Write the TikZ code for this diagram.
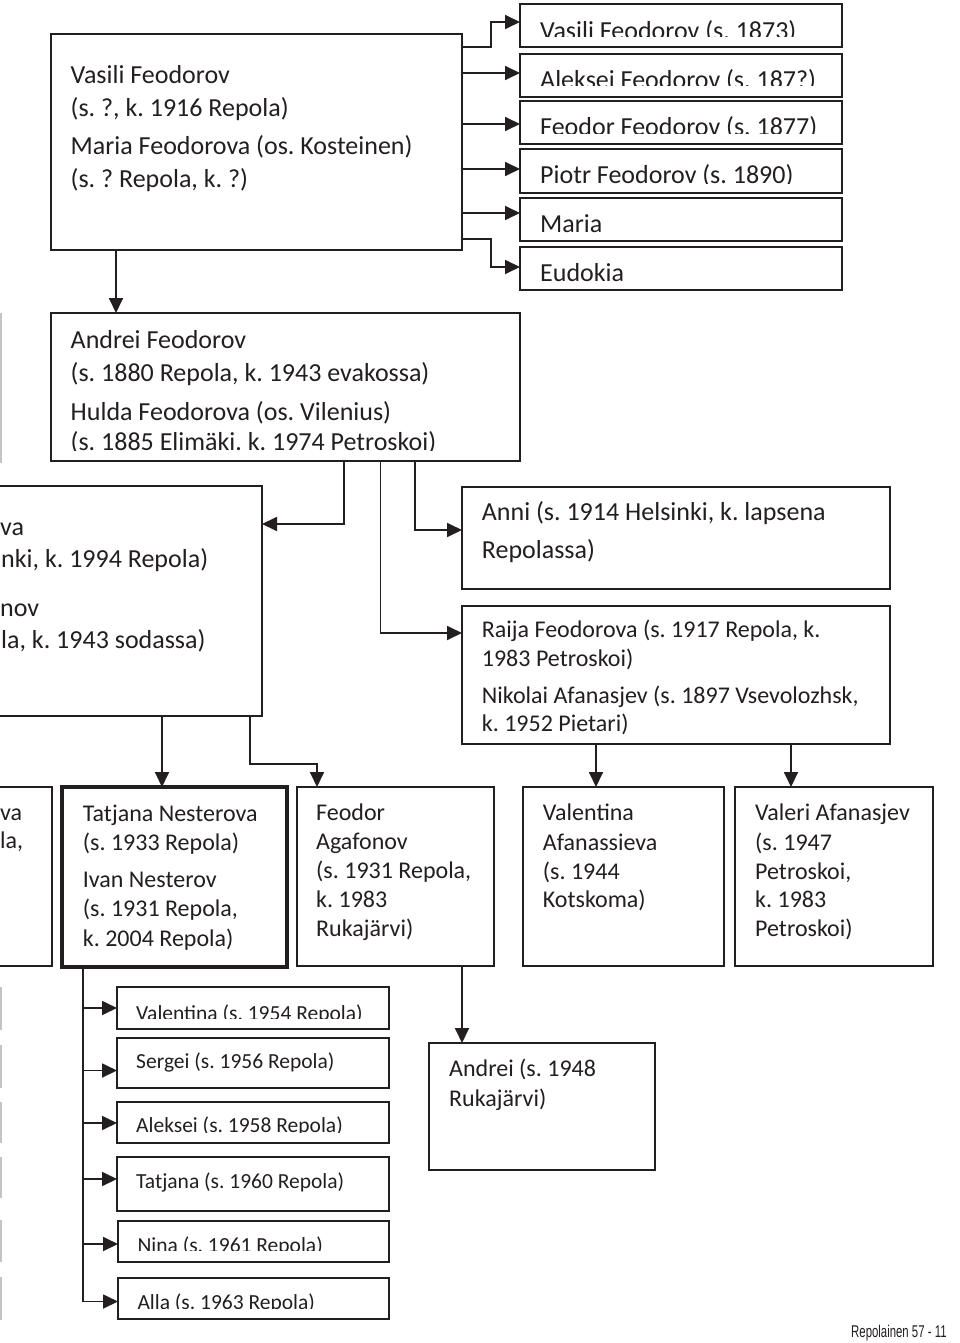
\documentclass[tikz,border=0pt]{standalone}
\usepackage{fontspec}
\setmainfont{Carlito}
\newfontfamily\footfont{Liberation Sans}
\usetikzlibrary{arrows.meta}
\definecolor{ink}{HTML}{231F20}
\definecolor{edgegray}{HTML}{C4C4C4}
\newcommand\tline[5]{\node[#1] (#2) at (#3,#4) {#5};}
\newcommand\ctline[6]{\begin{scope}\clip (#3-6,#4-40) rectangle (#3+420,#5);\node[#1] (#2) at (#3,#4) {#6};\end{scope}}
\frenchspacing
\begin{document}
\frenchspacing
\begin{tikzpicture}[x=1pt,y=-1pt,
  box/.style={draw=ink, line width=1.8pt, inner sep=0pt, outer sep=0pt, anchor=north west},
  boldbox/.style={box, line width=4pt},
  conn/.style={draw=ink, line width=1.8pt},
  arr/.style={conn, -{Triangle[length=15pt,width=14pt]}},
  tA/.style={text=ink, inner sep=0pt, anchor=base west, font=\fontsize{26}{30}\selectfont},
  tB/.style={text=ink, inner sep=0pt, anchor=base west, font=\fontsize{24}{28}\selectfont},
  tC/.style={text=ink, inner sep=0pt, anchor=base west, font=\fontsize{21.5}{25}\selectfont},
  edge/.style={draw=edgegray, line width=1.5pt}]
\useasboundingbox (0,0) rectangle (960,1343);
\fill[white] (0,0) rectangle (960,1343);

% faint edges of cut-off boxes at the left border
\draw[edge] (0.75,313) -- (0.75,463);
\draw[edge] (0.75,987) -- (0.75,1030);
\draw[edge] (0.75,1045) -- (0.75,1088);
\draw[edge] (0.75,1102) -- (0.75,1143);
\draw[edge] (0.75,1157) -- (0.75,1198);
\draw[edge] (0.75,1220) -- (0.75,1262);
\draw[edge] (0.75,1277) -- (0.75,1320);

% boxes
\node[box, minimum width=411pt, minimum height=216pt] (A) at (51,34) {};
\node[box, minimum width=322pt, minimum height=43pt] (c1) at (520,4) {};
\node[box, minimum width=322pt, minimum height=43pt] (c2) at (520,54) {};
\node[box, minimum width=322pt, minimum height=43pt] (c3) at (520,101) {};
\node[box, minimum width=322pt, minimum height=44pt] (c4) at (520,149) {};
\node[box, minimum width=322pt, minimum height=43pt] (c5) at (520,198) {};
\node[box, minimum width=322pt, minimum height=43pt] (c6) at (520,247) {};
\node[box, minimum width=469pt, minimum height=148pt] (B) at (51,313) {};
\node[box, minimum width=292pt, minimum height=230pt] (C) at (-30,486) {};
\node[box, minimum width=428pt, minimum height=102pt] (Anni) at (462,487) {};
\node[box, minimum width=428pt, minimum height=138pt] (Raija) at (462,606) {};
\node[box, minimum width=81.7pt, minimum height=179pt] (D) at (-30,787) {};
\node[boldbox, minimum width=225pt, minimum height=180pt] (Tat) at (62,787) {};
\node[box, minimum width=197pt, minimum height=179pt] (FA) at (297,787) {};
\node[box, minimum width=201pt, minimum height=179pt] (VA) at (523,787) {};
\node[box, minimum width=198pt, minimum height=179pt] (VAf) at (735,787) {};
\node[box, minimum width=272pt, minimum height=42pt] (k1) at (117,987) {};
\node[box, minimum width=272pt, minimum height=50pt] (k2) at (117,1038) {};
\node[box, minimum width=272pt, minimum height=41pt] (k3) at (117,1102) {};
\node[box, minimum width=272pt, minimum height=54pt] (k4) at (117,1157) {};
\node[box, minimum width=271pt, minimum height=41pt] (k5) at (118,1221) {};
\node[box, minimum width=271pt, minimum height=41pt] (k6) at (118,1278) {};
\node[box, minimum width=226pt, minimum height=127pt] (AR) at (429,1043) {};

% connectors
\draw[arr] (A.east |- 0,47) -- (491,47) -- (491,22) -- (c1.west |- 0,22);
\draw[arr] (A.east |- 0,73) -- (c2.west |- 0,73);
\draw[arr] (A.east |- 0,124) -- (c3.west |- 0,124);
\draw[arr] (A.east |- 0,169) -- (c4.west |- 0,169);
\draw[arr] (A.east |- 0,213) -- (c5.west |- 0,213);
\draw[arr] (A.east |- 0,239) -- (491,239) -- (491,267) -- (c6.west |- 0,267);
\draw[arr] (A.south -| 116,0) -- (B.north -| 116,0);
\draw[arr] (B.south -| 344,0) |- (C.east |- 0,524);
\draw[arr] (B.south -| 415,0) |- (Anni.west |- 0,530);
\draw[arr] (B.south -| 380.5,0) |- (Raija.west |- 0,633);
\draw[arr] (C.south -| 162,0) -- (Tat.north -| 162,0);
\draw[arr] (C.south -| 250,0) -- (250,764) -- (317,764) -- (FA.north -| 317,0);
\draw[arr] (Raija.south -| 596,0) -- (VA.north -| 596,0);
\draw[arr] (Raija.south -| 791,0) -- (VAf.north -| 791,0);
\draw[arr] (FA.south -| 462,0) -- (AR.north -| 462,0);
\draw[arr] (Tat.south -| 83,0) |- (k1.west |- 0,1008);
\draw[arr] (Tat.south -| 83,0) |- (k2.west |- 0,1070.5);
\draw[arr] (Tat.south -| 83,0) |- (k3.west |- 0,1123);
\draw[arr] (Tat.south -| 83,0) |- (k4.west |- 0,1179);
\draw[arr] (Tat.south -| 83,0) |- (k5.west |- 0,1244);
\draw[arr] (Tat.south -| 83,0) |- (k6.west |- 0,1301.5);

% texts
\tline{tA}{a1}{70.5}{83.5}{Vasili Feodorov}
\tline{tA}{a2}{70.5}{116.5}{(s. ?, k. 1916 Repola)}
\tline{tA}{a3}{70.5}{155}{Maria Feodorova (os. Kosteinen)}
\tline{tA}{a4}{70.5}{188}{(s. ? Repola, k. ?)}

\ctline{tA}{c1t}{540}{40}{37}{Vasili Feodorov (s. 1873)}
\ctline{tA}{c2t}{540}{88.5}{86}{Aleksei Feodorov (s. 187?)}
\ctline{tA}{c3t}{540}{135.5}{133.5}{Feodor Feodorov (s. 1877)}
\ctline{tA}{c4t}{540}{183.5}{183.5}{Piotr Feodorov (s. 1890)}
\tline{tA}{c5t}{540}{232.3}{Maria}
\tline{tA}{c6t}{540}{281}{Eudokia}

\tline{tA}{b1}{70.5}{348.3}{Andrei Feodorov}
\tline{tA}{b2}{70.5}{381.5}{(s. 1880 Repola, k. 1943 evakossa)}
\tline{tA}{b3}{70.5}{420}{Hulda Feodorova (os. Vilenius)}
\ctline{tA}{b4}{70.5}{450.5}{450.5}{(s. 1885 Elimäki. k. 1974 Petroskoi)}

\tline{tA}{cc1}{0}{535}{va}
\tline{tA}{cc2}{1}{567}{nki, k. 1994 Repola)}
\tline{tA}{cc3}{0}{616.5}{nov}
\tline{tA}{cc4}{1}{648}{la, k. 1943 sodassa)}

\tline{tA}{an1}{481.7}{520}{Anni (s. 1914 Helsinki, k. lapsena}
\tline{tA}{an2}{481.7}{558.3}{Repolassa)}

\tline{tB}{r1}{481.7}{637.3}{Raija Feodorova (s. 1917 Repola, k.}
\tline{tB}{r2}{481.7}{666.7}{1983 Petroskoi)}
\tline{tB}{r3}{481.7}{703.3}{Nikolai Afanasjev (s. 1897 Vsevolozhsk,}
\ctline{tB}{r4}{481.7}{731.7}{734}{k. 1952 Pietari)}

\tline{tB}{d1}{0}{820}{va}
\tline{tB}{d2}{0}{848}{la,}

\tline{tB}{t1}{82.7}{821.7}{Tatjana Nesterova}
\tline{tB}{t2}{82.7}{850}{(s. 1933 Repola)}
\tline{tB}{t3}{82.7}{887.3}{Ivan Nesterov}
\tline{tB}{t4}{82.7}{916.7}{(s. 1931 Repola,}
\tline{tB}{t5}{82.7}{946}{k. 2004 Repola)}

\tline{tB}{f1}{316}{820}{Feodor}
\tline{tB}{f2}{316}{849.3}{Agafonov}
\tline{tB}{f3}{316}{878.3}{(s. 1931 Repola,}
\tline{tB}{f4}{316}{907}{k. 1983}
\tline{tB}{f5}{316}{936.7}{Rukajärvi)}

\tline{tB}{v1}{542.7}{820}{Valentina}
\tline{tB}{v2}{542.7}{850}{Afanassieva}
\tline{tB}{v3}{542.7}{879.3}{(s. 1944}
\tline{tB}{v4}{542.7}{907.3}{Kotskoma)}

\tline{tB}{w1}{755}{820}{Valeri Afanasjev}
\tline{tB}{w2}{755}{850}{(s. 1947}
\tline{tB}{w3}{755}{879.3}{Petroskoi,}
\tline{tB}{w4}{755}{907.3}{k. 1983}
\tline{tB}{w5}{755}{936.7}{Petroskoi)}

\ctline{tC}{k1t}{136}{1020.5}{1018.5}{Valentina (s. 1954 Repola)}
\tline{tC}{k2t}{136}{1068.3}{Sergei (s. 1956 Repola)}
\ctline{tC}{k3t}{136}{1132.5}{1132.7}{Aleksei (s. 1958 Repola)}
\tline{tC}{k4t}{136}{1188.3}{Tatjana (s. 1960 Repola)}
\ctline{tC}{k5t}{137.3}{1252}{1250.7}{Nina (s. 1961 Repola)}
\ctline{tC}{k6t}{137.3}{1309.5}{1308.3}{Alla (s. 1963 Repola)}

\tline{tB}{ar1}{449}{1076}{Andrei (s. 1948}
\tline{tB}{ar2}{449}{1106}{Rukajärvi)}

\node[text=ink, inner sep=0pt, anchor=base west, font=\footfont\fontsize{17}{20}\selectfont] (foot) at (851,1337) {\scalebox{0.67}[1]{Repolainen 57 - 11}};
\end{tikzpicture}
\end{document}
